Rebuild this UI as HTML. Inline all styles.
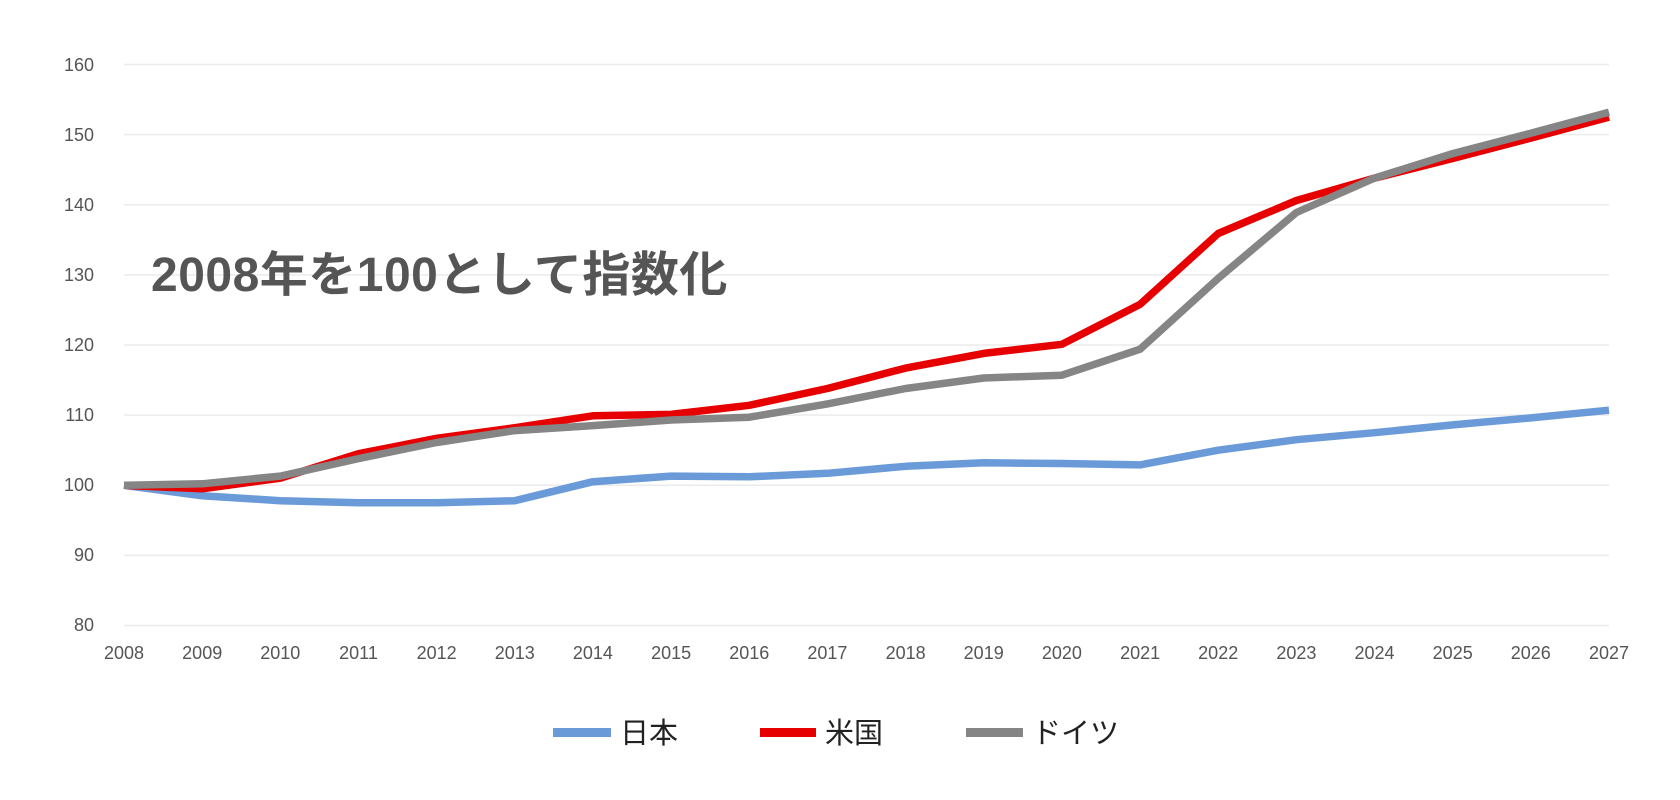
<!DOCTYPE html>
<html><head><meta charset="utf-8"><style>
body{margin:0;background:#fff;}
svg{display:block;font-family:"Liberation Sans","Noto Sans CJK JP",sans-serif;}
</style></head><body>
<svg width="1680" height="800" viewBox="0 0 1680 800" xmlns="http://www.w3.org/2000/svg">
<g stroke="#ebebeb" stroke-width="1.5">
<line x1="124" x2="1609" y1="64.5" y2="64.5"/>
<line x1="124" x2="1609" y1="134.6" y2="134.6"/>
<line x1="124" x2="1609" y1="204.8" y2="204.8"/>
<line x1="124" x2="1609" y1="274.9" y2="274.9"/>
<line x1="124" x2="1609" y1="345" y2="345"/>
<line x1="124" x2="1609" y1="415.1" y2="415.1"/>
<line x1="124" x2="1609" y1="485.3" y2="485.3"/>
<line x1="124" x2="1609" y1="555.4" y2="555.4"/>
<line x1="124" x2="1609" y1="625.5" y2="625.5"/>
</g>
<g fill="#555" font-size="18" text-anchor="end">
<text x="94" y="71">160</text><text x="94" y="141">150</text><text x="94" y="211">140</text>
<text x="94" y="281">130</text><text x="94" y="351">120</text><text x="94" y="421">110</text>
<text x="94" y="491">100</text><text x="94" y="561">90</text><text x="94" y="631">80</text>
</g>
<g fill="#555" font-size="18" text-anchor="middle" id="xl"></g>
<text x="151" y="291" font-size="48" font-weight="bold" fill="#555" letter-spacing="0.5">2008年を100として指数化</text>
<g fill="none" stroke-width="7.5" stroke-linejoin="round" stroke-linecap="butt">
<polyline id="jp" stroke="#6a9bd8"/>
<polyline id="us" stroke="#e60000"/>
<polyline id="de" stroke="#858585"/>
</g>
<rect x="553" y="728" width="58" height="9" fill="#6a9bd8"/>
<text x="620" y="743" font-size="29" fill="#222">日本</text>
<rect x="760" y="728" width="56" height="9" fill="#e60000"/>
<text x="825" y="743" font-size="29" fill="#222">米国</text>
<rect x="966" y="728" width="57" height="9" fill="#858585"/>
<text x="1032" y="743" font-size="29" fill="#222">ドイツ</text>
</svg>
<script>
var jp=[100,98.5,97.8,97.5,97.5,97.8,100.5,101.3,101.2,101.7,102.7,103.2,103.1,102.9,105,106.5,107.5,108.6,109.6,110.7];
var us=[100,99.5,101,104.5,106.7,108.2,109.9,110.1,111.4,113.8,116.7,118.8,120.1,125.8,135.9,140.6,143.8,146.6,149.5,152.5];
var de=[100,100.2,101.3,103.8,106.1,107.8,108.5,109.3,109.7,111.6,113.8,115.3,115.7,119.4,129.5,138.9,143.8,147.3,150.2,153.2];
function X(i){return 124+i*(1609-124)/19;}
function Y(v){return 625.5-(v-80)*7.0125;}
function pts(a){return a.map(function(v,i){return X(i).toFixed(1)+","+Y(v).toFixed(1)}).join(" ");}
document.getElementById("jp").setAttribute("points",pts(jp));
document.getElementById("us").setAttribute("points",pts(us));
document.getElementById("de").setAttribute("points",pts(de));
var g=document.getElementById("xl"),s="";
for(var i=0;i<20;i++){s+='<text x="'+X(i).toFixed(1)+'" y="659">'+(2008+i)+'</text>';}
g.innerHTML=s;
</script>
</body></html>
